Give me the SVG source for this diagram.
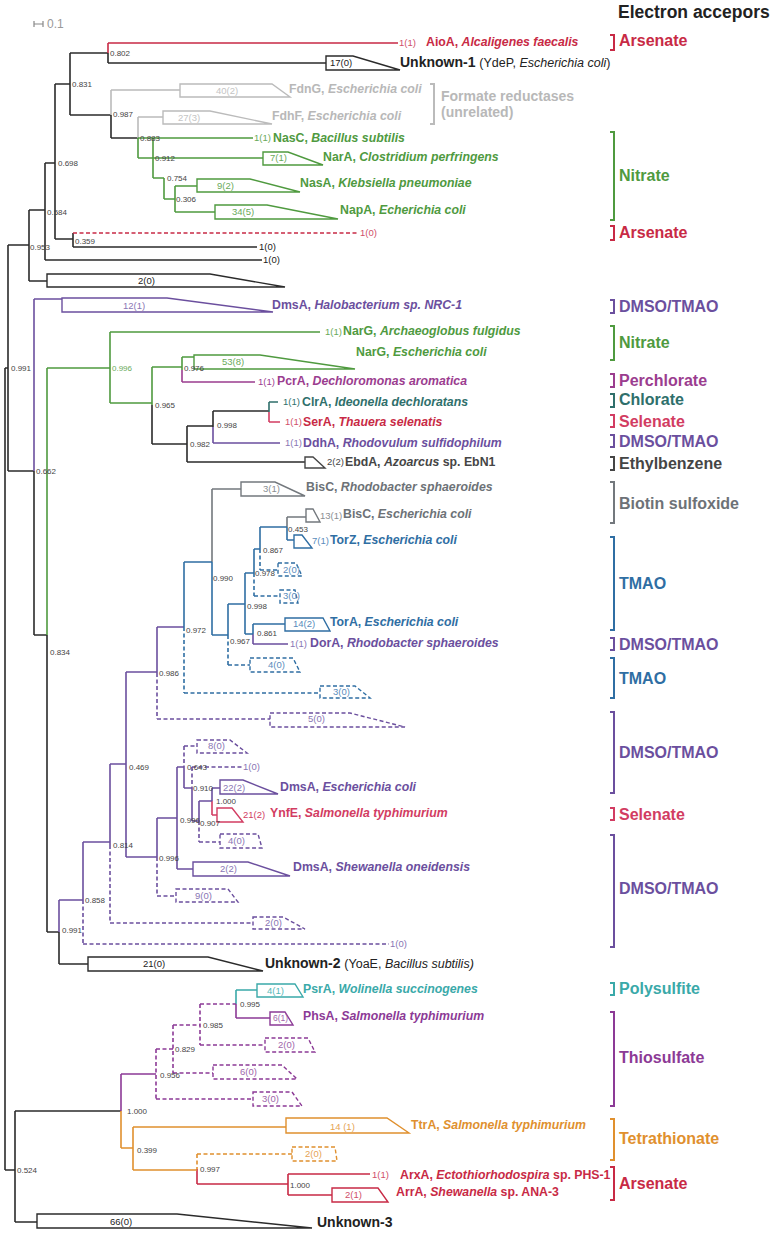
<svg xmlns="http://www.w3.org/2000/svg" width="777" height="1240" viewBox="0 0 777 1240">
<style>
.br{fill:none;stroke-width:1.6}
.tz{fill:none;stroke-width:1.4}
.d{stroke-dasharray:4 2.5}
.bk{fill:none;stroke-width:2}
.k{stroke:#2b2b2b}.r{stroke:#c82a45}.gy{stroke:#bbbbbb}.g{stroke:#4f9a3f}.p{stroke:#6b4f9e}.pc{stroke:#9b3d8f}.ch{stroke:#2f6f6b}.se{stroke:#d23c62}.bs{stroke:#73787d}.b{stroke:#2f6ea3}.ps{stroke:#3aa9a9}.th{stroke:#8c3a96}.o{stroke:#e0902e}.eb{stroke:#454545}
text{font-family:"Liberation Sans",Arial,sans-serif}
.nm{font-size:12.3px;font-weight:bold}
.ct{font-size:9.5px}
.sv{font-size:8px;fill:#444}
.ac{font-size:16px;font-weight:bold}
.u{font-size:14px;font-weight:bold}
.ur{font-size:12.5px;font-weight:normal}
.it{font-style:italic}
.fk{fill:#222}.fr{fill:#c82a45}.fgy{fill:#b8b8b8}.fg{fill:#4f9a3f}.fp{fill:#6b4f9e}.fpc{fill:#9b3d8f}.fch{fill:#2f6f6b}.fse{fill:#d23c62}.fbs{fill:#6d7277}.fb{fill:#2f6ea3}.fps{fill:#3aa9a9}.fth{fill:#8c3a96}.fo{fill:#e0902e}.feb{fill:#454545}
.cgy{fill:#c4c4c4}.cg{fill:#6aaa5a}.cp{fill:#8a76b4}.cb{fill:#5a8cbc}.cth{fill:#a066aa}.co{fill:#e6a454}.cr{fill:#d0506a}.cbs{fill:#8a8e92}.cps{fill:#55b8b8}
</style>

<text x="618" y="18" style="font-size:17.5px;font-weight:bold" class="fk">Electron accepors</text>
<g id="scale">
<path d="M34 24 H43 M34 21 V27 M43 21 V27" fill="none" stroke="#888" stroke-width="1.2"/>
<text x="47" y="28" style="font-size:12px" fill="#999">0.1</text>
</g>

<g id="connectors">
<path class="br k" d="M5 368 V1170 M5 368 H8 M8 245 V471 M8 245 H29 M8 471 H34 M29 210 V281 M29 210 H45 M29 281 H47 M45 163 V260 M45 163 H55 M45 260 H262 M55 84 V239 M55 84 H70 M55 239 H73 M73 233 V247 M73 247 H257 M70 53 V115 M70 53 H108 M70 115 H111 M108 53 V63 M108 63 H326 M111 115 V138 M111 138 H138 M34 471 V635 M34 635 H47 M47 635 V932 M47 932 H59 M59 932 V964 M59 964 H88 M152 405 V444 M152 444 H187 M187 426 V462 M187 426 H213 M187 462 H305 M213 411 V427 M213 411 H269 M5 1170 H15 M15 1111 V1222 M15 1111 H121 M15 1222 H37"/>
<path class="br r" d="M108 43 V53 M108 43 H398 M197 1169 V1184 M197 1184 H288 M288 1174 V1195 M288 1174 H370 M288 1195 H332"/>
<path class="br r d" d="M73 233 H357"/>
<path class="br gy" d="M111 90 V115 M111 90 H180 M138 117 V138 M138 117 H163"/>
<path class="br g" d="M138 138 V158 M138 158 H263 M153 138 V178 M138 138 H253 M153 178 H164 M164 178 V199 M164 199 H175 M175 186 V212 M175 186 H197 M175 212 H215 M47 368 V635 M47 368 H110 M110 332 V403 M110 332 H320 M110 403 H152 M152 367 V405 M152 367 H182 M182 357 V370 M182 357 H194"/>
<path class="br pc" d="M182 370 V382 M182 382 H255"/>
<path class="br ch" d="M269 402 V412 M269 402 H278"/>
<path class="br se" d="M269 412 V422 M269 422 H280 M212 801 V815 M212 815 H217"/>
<path class="br p" d="M34 299 V471 M34 299 H62 M213 427 V443 M213 443 H280 M59 900 V932 M59 900 H83 M83 842 V900 M83 842 H110 M110 764 V845 M110 764 H126 M126 672 V857 M126 672 H157 M126 857 H157 M157 627 V673 M157 627 H184 M157 818 V857 M157 818 H177 M177 767 V869 M177 869 H193 M177 767 H184 M184 767 V788 M184 788 H192 M192 788 V821 M192 821 H199 M199 801 V821 M199 801 H212 M212 788 V801 M212 788 H220 M253 634 V644 M253 644 H288"/>
<path class="br p d" d="M83 900 V944 M83 944 H389 M110 845 V923 M110 923 H253 M157 673 V719 M157 719 H270 M157 857 V896 M157 896 H176 M184 746 V767 M184 746 H197 M192 767 V788 M192 767 H242 M199 821 V842 M199 842 H220"/>
<path class="br bs" d="M212 489 V562 M212 489 H241 M287 517 V527 M287 517 H306"/>
<path class="br b" d="M184 562 V627 M184 562 H212 M212 562 V635 M212 635 H228 M228 604 V635 M228 604 H245 M245 573 V634 M245 573 H254 M245 634 H253 M253 624 V634 M253 624 H285 M254 549 V573 M254 549 H260 M260 527 V549 M260 527 H287 M287 527 V540 M287 540 H294"/>
<path class="br b d" d="M184 627 V693 M184 693 H320 M228 635 V665 M228 665 H250 M254 573 V596 M254 596 H280 M260 549 V570 M260 570 H278"/>
<path class="br ps" d="M236 990 V1004 M236 990 H257"/>
<path class="br th" d="M121 1074 V1111 M121 1074 H156 M236 1004 V1018 M236 1018 H270"/>
<path class="br th d" d="M156 1049 V1099 M156 1049 H173 M156 1099 H253 M173 1025 V1073 M173 1025 H200 M173 1073 H213 M200 1004 V1045 M200 1004 H236 M200 1045 H265"/>
<path class="br o" d="M121 1111 V1148 M121 1148 H133 M133 1127 V1170 M133 1127 H286 M133 1170 H197"/>
<path class="br o d" d="M197 1154 V1169 M197 1154 H292"/>
</g>

<g id="leaf-aioa"><text class="ct cr" x="399" y="46">1(1)</text><text class="nm fr" x="426" y="46">AioA, <tspan class="it">Alcaligenes faecalis</tspan></text></g>
<g id="leaf-unknown1"><polygon class="tz k" points="326,56 353,56 400,70 326,70"/><text class="ct fk" x="330" y="66">17(0)</text><text class="u fk" x="400" y="67">Unknown-1 <tspan class="ur">(YdeP, <tspan class="it">Escherichia coli</tspan>)</tspan></text></g>
<g id="leaf-fdng"><polygon class="tz gy" points="180,84 272,84 290,97 180,97"/><text class="ct cgy" x="216" y="94">40(2)</text><text class="nm fgy" x="289" y="93">FdnG, <tspan class="it">Escherichia coli</tspan></text></g>
<g id="leaf-fdhf"><polygon class="tz gy" points="163,111 210,111 272,124 163,124"/><text class="ct cgy" x="178" y="121">27(3)</text><text class="nm fgy" x="272" y="120">FdhF, <tspan class="it">Escherichia coli</tspan></text></g>
<g id="leaf-nasc"><text class="ct cg" x="254" y="141">1(1)</text><text class="nm fg" x="273" y="142">NasC, <tspan class="it">Bacillus subtilis</tspan></text></g>
<g id="leaf-nara"><polygon class="tz g" points="263,152 288,152 323,165 263,165"/><text class="ct cg" x="270" y="161">7(1)</text><text class="nm fg" x="323" y="161">NarA, <tspan class="it">Clostridium perfringens</tspan></text></g>
<g id="leaf-nasa"><polygon class="tz g" points="197,179 250,179 300,192 197,192"/><text class="ct cg" x="217" y="189">9(2)</text><text class="nm fg" x="300" y="187">NasA, <tspan class="it">Klebsiella pneumoniae</tspan></text></g>
<g id="leaf-napa"><polygon class="tz g" points="215,205 267,205 338,219 215,219"/><text class="ct cg" x="232" y="215">34(5)</text><text class="nm fg" x="340" y="214">NapA, <tspan class="it">Echerichia coli</tspan></text></g>
<g id="leaf-ars-dashed"><text class="ct cr" x="360" y="236">1(0)</text></g>
<g id="leaf-1a"><text class="ct fk" x="259" y="250">1(0)</text></g>
<g id="leaf-1b"><text class="ct fk" x="263" y="263">1(0)</text></g>
<g id="leaf-2-0"><polygon class="tz k" points="47,274 210,274 285,287 47,287"/><text class="ct fk" x="138" y="284">2(0)</text></g>
<g id="leaf-dmsa-halo"><polygon class="tz p" points="62,298 167,298 273,312 62,312"/><text class="ct cp" x="123" y="309">12(1)</text><text class="nm fp" x="272" y="309">DmsA, <tspan class="it">Halobacterium sp. NRC-1</tspan></text></g>
<g id="leaf-narg-af"><text class="ct cg" x="325" y="335">1(1)</text><text class="nm fg" x="343" y="335">NarG, <tspan class="it">Archaeoglobus fulgidus</tspan></text></g>
<g id="leaf-narg-ec"><polygon class="tz g" points="194,355 260,355 355,369 194,369"/><text class="ct cg" x="222" y="365">53(8)</text><text class="nm fg" x="356" y="356">NarG, <tspan class="it">Escherichia coli</tspan></text></g>
<g id="leaf-pcra"><text class="ct fpc" x="258" y="385">1(1)</text><text class="nm fpc" x="277" y="385">PcrA, <tspan class="it">Dechloromonas aromatica</tspan></text></g>
<g id="leaf-clra"><text class="ct fch" x="283" y="405">1(1)</text><text class="nm fch" x="302" y="406">ClrA, <tspan class="it">Ideonella dechloratans</tspan></text></g>
<g id="leaf-sera"><text class="ct cr" x="285" y="425">1(1)</text><text class="nm fr" x="303" y="426">SerA, <tspan class="it">Thauera selenatis</tspan></text></g>
<g id="leaf-ddha"><text class="ct cp" x="285" y="446">1(1)</text><text class="nm fp" x="303" y="447">DdhA, <tspan class="it">Rhodovulum sulfidophilum</tspan></text></g>
<g id="leaf-ebda"><polygon class="tz eb" points="305,457 313,457 325,468 305,468"/><text class="ct feb" x="327" y="465">2(2)</text><text class="nm feb" x="345" y="466">EbdA, <tspan class="it">Azoarcus</tspan> sp. EbN1</text></g>
<g id="leaf-bisc-rs"><polygon class="tz bs" points="241,482 275,482 305,496 241,496"/><text class="ct cbs" x="263" y="492">3(1)</text><text class="nm fbs" x="306" y="491">BisC, <tspan class="it">Rhodobacter sphaeroides</tspan></text></g>
<g id="leaf-bisc-ec"><polygon class="tz bs" points="306,509 313,509 320,522 306,522"/><text class="ct cbs" x="320" y="519">13(1)</text><text class="nm fbs" x="343" y="518">BisC, <tspan class="it">Escherichia coli</tspan></text></g>
<g id="leaf-torz"><polygon class="tz b" points="294,535 302,535 312,548 294,548"/><text class="ct cb" x="312" y="544">7(1)</text><text class="nm fb" x="330" y="544">TorZ, <tspan class="it">Escherichia coli</tspan></text></g>
<g id="leaf-tmao-2"><polygon class="tz b d" points="278,563 296,563 302,576 278,576"/><text class="ct cb" x="283" y="573">2(0)</text></g>
<g id="leaf-tmao-3"><polygon class="tz b d" points="280,590 295,590 298,603 280,603"/><text class="ct cb" x="283" y="599">3(0)</text></g>
<g id="leaf-tora"><polygon class="tz b" points="285,618 323,618 330,631 285,631"/><text class="ct cb" x="293" y="627">14(2)</text><text class="nm fb" x="330" y="626">TorA, <tspan class="it">Escherichia coli</tspan></text></g>
<g id="leaf-dora"><text class="ct cp" x="290" y="647">1(1)</text><text class="nm fp" x="310" y="647">DorA, <tspan class="it">Rhodobacter sphaeroides</tspan></text></g>
<g id="leaf-tmao-4"><polygon class="tz b d" points="250,658 293,658 300,672 250,672"/><text class="ct cb" x="268" y="668">4(0)</text></g>
<g id="leaf-tmao-3b"><polygon class="tz b d" points="320,686 355,686 370,698 320,698"/><text class="ct cb" x="333" y="695">3(0)</text></g>
<g id="leaf-dmso-5"><polygon class="tz p d" points="270,713 350,713 405,727 270,727"/><text class="ct cp" x="308" y="722">5(0)</text></g>
<g id="leaf-dmso-8"><polygon class="tz p d" points="197,740 230,740 247,753 197,753"/><text class="ct cp" x="208" y="749">8(0)</text></g>
<g id="leaf-dmso-1"><text class="ct cp" x="243" y="770">1(0)</text></g>
<g id="leaf-dmsa-ec"><polygon class="tz p" points="220,780 243,780 278,794 220,794"/><text class="ct cp" x="223" y="791">22(2)</text><text class="nm fp" x="280" y="791">DmsA, <tspan class="it">Escherichia coli</tspan></text></g>
<g id="leaf-ynfe"><polygon class="tz se" points="217,808 232,808 243,822 217,822"/><text class="ct fse" x="243" y="818">21(2)</text><text class="nm fse" x="270" y="817">YnfE, <tspan class="it">Salmonella typhimurium</tspan></text></g>
<g id="leaf-dmso-4"><polygon class="tz p d" points="220,834 258,834 262,848 220,848"/><text class="ct cp" x="228" y="844">4(0)</text></g>
<g id="leaf-dmsa-so"><polygon class="tz p" points="193,862 248,862 290,876 193,876"/><text class="ct cp" x="220" y="872">2(2)</text><text class="nm fp" x="293" y="871">DmsA, <tspan class="it">Shewanella oneidensis</tspan></text></g>
<g id="leaf-dmso-9"><polygon class="tz p d" points="176,889 228,889 238,902 176,902"/><text class="ct cp" x="195" y="899">9(0)</text></g>
<g id="leaf-dmso-2"><polygon class="tz p d" points="253,917 283,917 305,929 253,929"/><text class="ct cp" x="265" y="926">2(0)</text></g>
<g id="leaf-dmso-1b"><text class="ct cp" x="390" y="947">1(0)</text></g>
<g id="leaf-unknown2"><polygon class="tz k" points="88,957 208,957 263,971 88,971"/><text class="ct fk" x="143" y="967">21(0)</text><text class="u fk" x="265" y="968">Unknown-2 <tspan class="ur">(YoaE, <tspan class="it">Bacillus subtilis)</tspan></tspan></text></g>
<g id="leaf-psra"><polygon class="tz ps" points="257,984 295,984 303,997 257,997"/><text class="ct cps" x="267" y="994">4(1)</text><text class="nm fps" x="303" y="993">PsrA, <tspan class="it">Wolinella succinogenes</tspan></text></g>
<g id="leaf-phsa"><polygon class="tz th" points="270,1012 285,1012 293,1025 270,1025"/><text class="cth" style="font-size:8.5px" x="273" y="1021">6(1)</text><text class="nm fth" x="303" y="1020">PhsA, <tspan class="it">Salmonella typhimurium</tspan></text></g>
<g id="leaf-thio-2"><polygon class="tz th d" points="265,1038 308,1038 315,1052 265,1052"/><text class="ct cth" x="278" y="1048">2(0)</text></g>
<g id="leaf-thio-6"><polygon class="tz th d" points="213,1065 282,1065 297,1079 213,1079"/><text class="ct cth" x="240" y="1075">6(0)</text></g>
<g id="leaf-thio-3"><polygon class="tz th d" points="253,1092 292,1092 302,1106 253,1106"/><text class="ct cth" x="262" y="1102">3(0)</text></g>
<g id="leaf-ttra"><polygon class="tz o" points="286,1118 387,1118 409,1133 286,1133"/><text class="ct co" x="330" y="1130">14 (1)</text><text class="nm fo" x="411" y="1129">TtrA, <tspan class="it">Salmonella typhimurium</tspan></text></g>
<g id="leaf-tet-2"><polygon class="tz o d" points="292,1147 335,1147 337,1161 292,1161"/><text class="ct co" x="305" y="1157">2(0)</text></g>
<g id="leaf-arxa"><text class="ct cr" x="372" y="1178">1(1)</text><text class="nm fr" x="400" y="1179">ArxA, <tspan class="it">Ectothiorhodospira</tspan> sp. PHS-1</text></g>
<g id="leaf-arra"><polygon class="tz r" points="332,1188 378,1188 388,1202 332,1202"/><text class="ct cr" x="345" y="1198">2(1)</text><text class="nm fr" x="396" y="1196">ArrA, <tspan class="it">Shewanella</tspan> sp. ANA-3</text></g>
<g id="leaf-unknown3"><polygon class="tz k" points="37,1214 177,1214 312,1228 37,1228"/><text class="ct fk" x="110" y="1225">66(0)</text><text class="u fk" x="317" y="1227">Unknown-3</text></g>

<g id="support">
<text class="sv" x="110" y="56">0.802</text>
<text class="sv" x="72" y="87">0.831</text>
<text class="sv" x="113" y="117">0.987</text>
<text class="sv" x="140" y="141">0.883</text>
<text class="sv" x="155" y="161">0.912</text>
<text class="sv" x="167" y="181">0.754</text>
<text class="sv" x="176" y="202">0.306</text>
<text class="sv" x="58" y="166">0.698</text>
<text class="sv" x="47" y="215">0.584</text>
<text class="sv" x="75" y="244">0.359</text>
<text class="sv" x="30" y="250">0.953</text>
<text class="sv" x="11" y="371">0.991</text>
<text class="sv" x="112" y="371" style="fill:#6aaa5a">0.996</text>
<text class="sv" x="184" y="371">0.976</text>
<text class="sv" x="155" y="408">0.965</text>
<text class="sv" x="217" y="428">0.998</text>
<text class="sv" x="190" y="447">0.982</text>
<text class="sv" x="36" y="474">0.662</text>
<text class="sv" x="213" y="581">0.990</text>
<text class="sv" x="288" y="532">0.453</text>
<text class="sv" x="263" y="553">0.867</text>
<text class="sv" x="255" y="576">0.978</text>
<text class="sv" x="247" y="609">0.998</text>
<text class="sv" x="186" y="633">0.972</text>
<text class="sv" x="257" y="636">0.861</text>
<text class="sv" x="230" y="644">0.967</text>
<text class="sv" x="50" y="655">0.834</text>
<text class="sv" x="159" y="676">0.986</text>
<text class="sv" x="187" y="770">0.643</text>
<text class="sv" x="129" y="770">0.469</text>
<text class="sv" x="193" y="791">0.910</text>
<text class="sv" x="216" y="804">1.000</text>
<text class="sv" x="180" y="823">0.996</text>
<text class="sv" x="200" y="826">0.907</text>
<text class="sv" x="113" y="848">0.814</text>
<text class="sv" x="159" y="861">0.996</text>
<text class="sv" x="85" y="903">0.858</text>
<text class="sv" x="62" y="933">0.991</text>
<text class="sv" x="240" y="1007">0.995</text>
<text class="sv" x="203" y="1028">0.985</text>
<text class="sv" x="175" y="1052">0.829</text>
<text class="sv" x="160" y="1078">0.956</text>
<text class="sv" x="127" y="1114">1.000</text>
<text class="sv" x="137" y="1153">0.399</text>
<text class="sv" x="200" y="1172">0.997</text>
<text class="sv" x="290" y="1188">1.000</text>
<text class="sv" x="17" y="1173">0.524</text>
</g>

<g id="brackets">
<path class="bk r" d="M610 35 H614 V50 H610 M610 226 H614 V240 H610"/>
<path class="bk gy" d="M430 84 H434 V124 H430"/>
<path class="bk g" d="M610 132 H614 V220 H610 M610 326 H614 V360 H610"/>
<path class="bk p" d="M610 300 H614 V313 H610 M610 435 H614 V447 H610 M610 638 H614 V650 H610 M610 712 H614 V793 H610 M610 835 H614 V947 H610"/>
<path class="bk pc" d="M610 374 H614 V387 H610"/>
<path class="bk ch" d="M610 394 H614 V407 H610"/>
<path class="bk se" d="M610 415 H614 V427 H610 M610 808 H614 V820 H610"/>
<path class="bk eb" d="M610 457 H614 V470 H610"/>
<path class="bk bs" d="M610 482 H614 V523 H610"/>
<path class="bk b" d="M610 537 H614 V630 H610 M610 658 H614 V698 H610"/>
<path class="bk ps" d="M610 983 H614 V995 H610"/>
<path class="bk th" d="M610 1012 H614 V1106 H610"/>
<path class="bk o" d="M610 1119 H614 V1160 H610"/>
<path class="bk r" d="M610 1167 H614 V1200 H610"/>
<text class="ac fr" x="619" y="46">Arsenate</text>
<text style="font-size:14px;font-weight:bold" class="fgy" x="441" y="101">Formate reductases</text>
<text style="font-size:14px;font-weight:bold" class="fgy" x="441" y="117">(unrelated)</text>
<text class="ac fg" x="619" y="181">Nitrate</text>
<text class="ac fr" x="619" y="238">Arsenate</text>
<text class="ac fp" x="619" y="312">DMSO/TMAO</text>
<text class="ac fg" x="619" y="348">Nitrate</text>
<text class="ac fpc" x="619" y="386">Perchlorate</text>
<text class="ac fch" x="619" y="405">Chlorate</text>
<text class="ac fse" x="619" y="427">Selenate</text>
<text class="ac fp" x="619" y="447">DMSO/TMAO</text>
<text class="ac feb" x="619" y="469">Ethylbenzene</text>
<text class="ac fbs" x="619" y="509">Biotin sulfoxide</text>
<text class="ac fb" x="619" y="589">TMAO</text>
<text class="ac fp" x="619" y="650">DMSO/TMAO</text>
<text class="ac fb" x="619" y="684">TMAO</text>
<text class="ac fp" x="619" y="758">DMSO/TMAO</text>
<text class="ac fse" x="619" y="820">Selenate</text>
<text class="ac fp" x="619" y="894">DMSO/TMAO</text>
<text class="ac fps" x="619" y="994">Polysulfite</text>
<text class="ac fth" x="619" y="1063">Thiosulfate</text>
<text class="ac fo" x="619" y="1144">Tetrathionate</text>
<text class="ac fr" x="619" y="1189">Arsenate</text>
</g>
</svg>
